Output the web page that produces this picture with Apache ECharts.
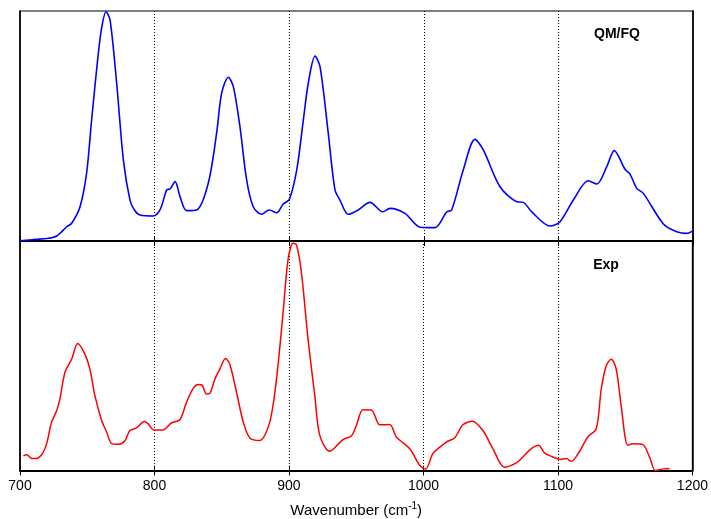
<!DOCTYPE html>
<html>
<head>
<meta charset="utf-8">
<script src="https://cdn.jsdelivr.net/npm/echarts@6/dist/echarts.min.js"></script>
<style>
  html, body { margin: 0; padding: 0; background: #ffffff; }
  #chart { width: 711px; height: 519px; }
</style>
</head>
<body>
<div id="chart"></div>
<script>
// Wavenumber tick labels (cm^-1)
const xTicks = [700, 800, 900, 1000, 1100, 1200];

// Computed QM/FQ spectrum (normalised intensity)
const qmWavenumber = [700, 712, 720, 727.3, 734.7, 738.4, 744.6, 749.5, 753.2, 758.2, 761, 763.9, 766.9, 771.8, 776.8, 781.7, 785, 789.2, 799, 804, 809, 811.4, 815.2, 818.9, 823.8, 831.3, 839.9, 846.1, 849.8, 854.8, 858.5, 863.4, 868.4, 873.3, 879.5, 885.2, 890.7, 895.6, 900.1, 905.6, 910.5, 914.2, 919.2, 922.9, 929, 934, 937.7, 943.9, 951.3, 960, 969.5, 974.9, 986, 997.2, 1008.3, 1017, 1020.7, 1029.3, 1038, 1044.2, 1056.6, 1069, 1073.9, 1080.2, 1093.8, 1101.2, 1111.1, 1122.2, 1128.5, 1135.9, 1141.5, 1149.5, 1153.2, 1158.2, 1163.1, 1178, 1187.9, 1195.3, 1200];
const qmIntensity = [0.001, 0.007, 0.011, 0.022, 0.062, 0.077, 0.149, 0.296, 0.526, 0.817, 0.939, 0.997, 0.961, 0.687, 0.352, 0.178, 0.135, 0.113, 0.109, 0.135, 0.222, 0.226, 0.258, 0.193, 0.132, 0.135, 0.252, 0.470, 0.643, 0.712, 0.671, 0.497, 0.265, 0.149, 0.116, 0.135, 0.123, 0.161, 0.181, 0.309, 0.526, 0.687, 0.804, 0.758, 0.470, 0.222, 0.178, 0.116, 0.135, 0.168, 0.127, 0.142, 0.120, 0.060, 0.058, 0.126, 0.135, 0.309, 0.442, 0.396, 0.236, 0.171, 0.168, 0.127, 0.065, 0.084, 0.178, 0.262, 0.248, 0.323, 0.393, 0.312, 0.291, 0.229, 0.207, 0.074, 0.040, 0.033, 0.045];

// Experimental spectrum (normalised intensity)
const expWavenumber = [702.5, 705, 708.7, 711.1, 716.1, 719.8, 723.5, 727.3, 729.7, 733.4, 738.4, 742.9, 748.3, 752, 755.7, 760.7, 764.4, 768.1, 773, 778, 781.7, 786.7, 792.3, 795.3, 799.6, 806.5, 812.7, 818.9, 823.8, 828.8, 832.5, 835.4, 838.7, 841.2, 844.9, 848.6, 852.8, 856, 861, 866, 870.9, 878.3, 885.7, 890.7, 895.6, 899.3, 903, 905.6, 909.3, 914.2, 919.2, 922.9, 930.3, 940.2, 946.4, 950.1, 955, 961.3, 967.5, 974.9, 979.9, 989.8, 997.2, 1001.6, 1007.1, 1017, 1023.2, 1029.3, 1036.3, 1044.2, 1051.6, 1060.3, 1069, 1073.9, 1080.2, 1085.6, 1090, 1096.2, 1101.2, 1106.2, 1109.9, 1116.1, 1122.2, 1128.5, 1132.2, 1135.9, 1139.6, 1143.3, 1147, 1152, 1155.7, 1163.1, 1168.1, 1172.5, 1178, 1183];
const expIntensity = [0.064, 0.069, 0.052, 0.052, 0.069, 0.117, 0.211, 0.261, 0.312, 0.427, 0.485, 0.553, 0.506, 0.442, 0.326, 0.218, 0.168, 0.117, 0.114, 0.130, 0.174, 0.186, 0.213, 0.203, 0.176, 0.177, 0.208, 0.221, 0.297, 0.358, 0.375, 0.372, 0.333, 0.336, 0.398, 0.442, 0.488, 0.463, 0.341, 0.211, 0.142, 0.131, 0.211, 0.398, 0.687, 0.918, 0.990, 0.983, 0.860, 0.571, 0.326, 0.153, 0.084, 0.135, 0.150, 0.196, 0.265, 0.264, 0.199, 0.200, 0.146, 0.095, 0.023, 0.006, 0.074, 0.124, 0.142, 0.199, 0.215, 0.174, 0.095, 0.014, 0.033, 0.059, 0.095, 0.110, 0.077, 0.059, 0.049, 0.052, 0.040, 0.084, 0.146, 0.182, 0.355, 0.456, 0.485, 0.442, 0.283, 0.110, 0.117, 0.113, 0.059, 0.000, 0.006, 0.009];

const pairs = (xs, ys) => xs.map((x, i) => [x, ys[i]]);

const FONT = '"Liberation Sans", Arial, Helvetica, sans-serif';
const xMin = xTicks[0];
const xMax = xTicks[xTicks.length - 1];
const xStep = xTicks[1] - xTicks[0];

// Dotted vertical guides at interior ticks only
const dottedGuides = {
  show: true,
  showMinLine: false,
  showMaxLine: false,
  lineStyle: { color: '#000', width: 1, type: [1, 2] }
};

function xAxisFor(gridIndex, position, opts) {
  return Object.assign({
    type: 'value',
    gridIndex: gridIndex,
    position: position,
    min: xMin,
    max: xMax,
    interval: xStep,
    axisLine: { show: true, onZero: false, lineStyle: { color: '#000', width: 2 } },
    axisTick: { show: true, inside: true, length: 5, lineStyle: { color: '#000', width: 1 } },
    axisLabel: { show: false },
    splitLine: { show: false }
  }, opts || {});
}

function frameAxis(gridIndex, position) {
  return {
    type: 'value', gridIndex: gridIndex, position: position, min: 0, max: 1,
    axisLine: { show: true, onZero: false, lineStyle: { color: '#000', width: 1.5 } },
    axisTick: { show: false }, axisLabel: { show: false }, splitLine: { show: false }
  };
}

const chart = echarts.init(document.getElementById('chart'), null, { renderer: 'canvas' });

chart.setOption({
  animation: false,
  backgroundColor: '#ffffff',
  grid: [
    { left: 20, right: 18, top: 11, height: 230, show: true, borderColor: '#000', borderWidth: 1.2, backgroundColor: 'transparent' },
    { left: 20, right: 18, top: 241, height: 231, show: true, borderColor: '#000', borderWidth: 1.2, backgroundColor: 'transparent' }
  ],
  xAxis: [
    xAxisFor(0, 'bottom', { splitLine: dottedGuides }),
    xAxisFor(0, 'top', { axisLine: { show: false } }),
    xAxisFor(1, 'bottom', {
      splitLine: dottedGuides,
      axisLabel: {
        show: true, margin: 9, color: '#000', fontSize: 14, fontFamily: FONT,
        formatter: (v) => String(v)
      },
      name: '{a|Wavenumber (cm}{s|-1}{a|)}',
      nameLocation: 'middle',
      nameGap: 31,
      nameTextStyle: {
        rich: {
          a: { fontSize: 15, fontFamily: FONT, color: '#000', lineHeight: 18 },
          s: { fontSize: 10, fontFamily: FONT, color: '#000', verticalAlign: 'top', lineHeight: 11 }
        }
      }
    }),
    xAxisFor(1, 'top', { axisLine: { show: false } })
  ],
  yAxis: [
    frameAxis(0, 'left'),
    frameAxis(0, 'right'),
    frameAxis(1, 'left'),
    frameAxis(1, 'right')
  ],
  series: [
    {
      name: 'QM/FQ',
      type: 'line',
      xAxisIndex: 0,
      yAxisIndex: 0,
      data: pairs(qmWavenumber, qmIntensity),
      smooth: 0.3,
      showSymbol: false,
      clip: true,
      lineStyle: { color: '#0000ff', width: 1.6 }
    },
    {
      name: 'Exp',
      type: 'line',
      xAxisIndex: 2,
      yAxisIndex: 2,
      data: pairs(expWavenumber, expIntensity),
      smooth: 0.3,
      showSymbol: false,
      clip: true,
      lineStyle: { color: '#ff0000', width: 1.5 }
    }
  ],
  graphic: [
    {
      type: 'text', x: 617, y: 34,
      style: { text: 'QM/FQ', fontSize: 14, fontWeight: 'bold', fontFamily: FONT, fill: '#000', textAlign: 'center', textVerticalAlign: 'middle' }
    },
    {
      type: 'text', x: 606, y: 265,
      style: { text: 'Exp', fontSize: 14, fontWeight: 'bold', fontFamily: FONT, fill: '#000', textAlign: 'center', textVerticalAlign: 'middle' }
    }
  ]
});
</script>
</body>
</html>
